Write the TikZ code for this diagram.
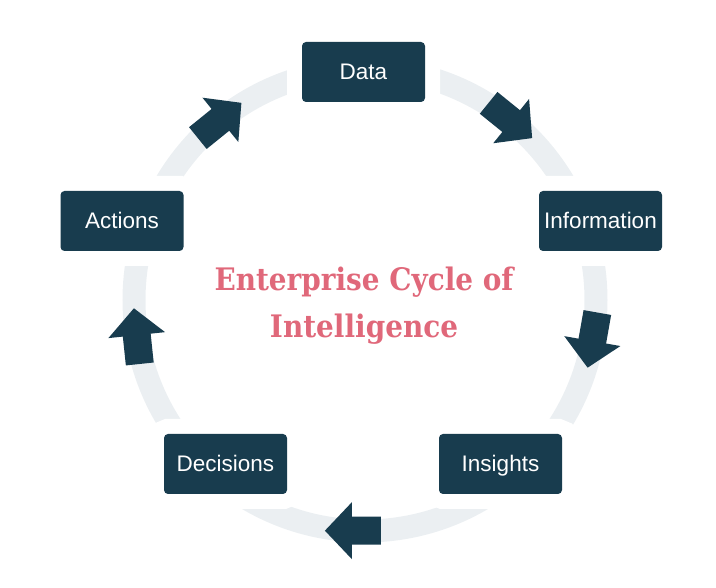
\documentclass[tikz,border=0pt]{standalone}
\usepackage{fontspec}
\setmainfont{Liberation Sans}
\newfontfamily\titlefont{DejaVu Serif}
\definecolor{stagecol}{RGB}{24,60,78}
\definecolor{ringcol}{RGB}{235,239,242}
\definecolor{titlecol}{RGB}{224,104,122}
\tikzstyle{ring}=[draw=ringcol,line width=23pt]
\tikzstyle{stage}=[fill=stagecol,text=white,rounded corners=4pt,minimum width=123pt,minimum height=60pt,inner sep=0pt,text height=16pt,text depth=0pt,font=\fontsize{22.5}{27}\selectfont,preaction={draw=white,line width=30pt}]
\tikzstyle{flow}=[fill=stagecol]
\tikzstyle{headline}=[text=titlecol,align=center,xscale=0.9,transform shape,font=\titlefont\bfseries\fontsize{31}{47}\selectfont]

\begin{document}
\begin{tikzpicture}[x=1pt,y=1pt]  % enterprise cycle
\useasboundingbox (0,0) rectangle (716,588);

\coordinate (hub) at (365,288);
\draw[ring] (hub) circle (231pt);

\node[stage] (data) at (363.5,516) {Data};
\node[stage] (info) at (600.5,367) {Information};
\node[stage] (insights) at (500.5,124) {Insights};
\node[stage] (decisions) at (225.5,124) {Decisions};
\node[stage] (actions) at (122,367) {Actions};

\node[headline] (title) at (364,282) {Enterprise Cycle of\\Intelligence};

\begin{scope}[shift={(hub)}]
\foreach \a/\r in {51/-39,-10/-100,267/180,189/96,129/39}
  \fill[flow,shift={(\a:231)},rotate=\r]
      (-28,-14) -- (1,-14) -- (1,-28.5) -- (28,0)
      -- (1,28.5) -- (1,14) -- (-28,14) -- cycle;
\end{scope}
\end{tikzpicture}
\end{document}
